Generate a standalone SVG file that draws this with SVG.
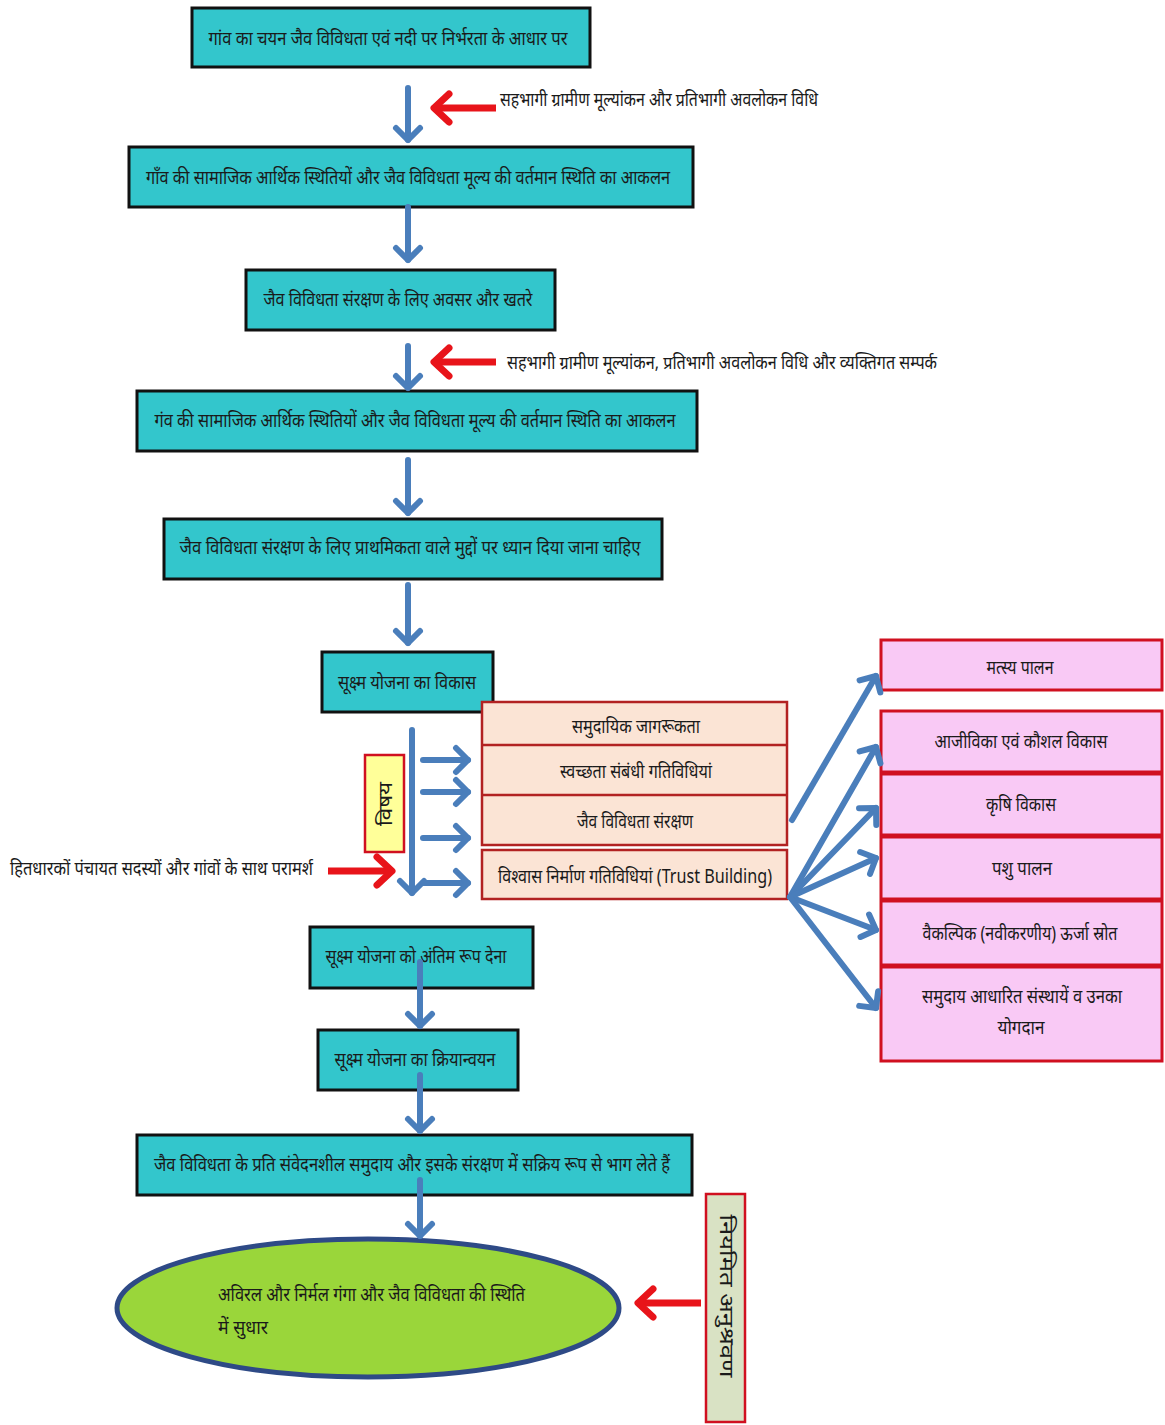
<svg xmlns="http://www.w3.org/2000/svg" width="1165" height="1425" viewBox="0 0 1165 1425">
<style>
text{font-family:"Noto Sans","Noto Sans Devanagari","Lohit Devanagari","Liberation Sans",sans-serif;font-size:19.5px;fill:#1a1a1a;dominant-baseline:central;text-anchor:middle}
.cy{fill:#33C6CC;stroke:#111;stroke-width:3}
.or{fill:#FBE4D5;stroke:#B22222;stroke-width:2.5}
.pk{fill:#F9C9F5;stroke:#D01020;stroke-width:3}
.bl{stroke:#4A7EBB;stroke-width:6;fill:none;stroke-linecap:round}
.rd{stroke:#E8141A;stroke-width:7;fill:none}
.lt{text-anchor:start}
.sm{font-size:18.5px}
</style>
<defs>
<marker id="bh" markerUnits="userSpaceOnUse" viewBox="-18 -18 36 36" markerWidth="36" markerHeight="36" refX="0" refY="0" orient="auto">
<path d="M-12,-12 L0,0 L-12,12" stroke="#4A7EBB" stroke-width="6" fill="none" stroke-linecap="round" stroke-linejoin="round"/>
</marker>
<marker id="rh" markerUnits="userSpaceOnUse" viewBox="-20 -20 40 40" markerWidth="40" markerHeight="40" refX="0" refY="0" orient="auto">
<path d="M-15,-14 L0,0 L-15,14" stroke="#E8141A" stroke-width="7" fill="none" stroke-linecap="round" stroke-linejoin="round"/>
</marker>
</defs>
<rect width="1165" height="1425" fill="#fff"/>

<g id="n1"><rect class="cy" x="192" y="8" width="398" height="59"/><text x="388" y="37" textLength="359" lengthAdjust="spacingAndGlyphs">गांव का चयन जैव विविधता एवं नदी पर निर्भरता के आधार पर</text></g>
<g id="l1"><text class="lt sm" x="500" y="98" textLength="318" lengthAdjust="spacingAndGlyphs">सहभागी ग्रामीण मूल्यांकन और प्रतिभागी अवलोकन विधि</text></g>
<g id="n2"><rect class="cy" x="129" y="147" width="564" height="60"/><text x="408" y="176" textLength="524" lengthAdjust="spacingAndGlyphs">गाँव की सामाजिक आर्थिक स्थितियों और जैव विविधता मूल्य की वर्तमान स्थिति का आकलन</text></g>
<g id="n3"><rect class="cy" x="246" y="270" width="309" height="60"/><text x="398" y="298" textLength="269" lengthAdjust="spacingAndGlyphs">जैव विविधता संरक्षण के लिए अवसर और खतरे</text></g>
<g id="l2"><text class="lt sm" x="507" y="361" textLength="430" lengthAdjust="spacingAndGlyphs">सहभागी ग्रामीण मूल्यांकन, प्रतिभागी अवलोकन विधि और  व्यक्तिगत सम्पर्क</text></g>
<g id="n4"><rect class="cy" x="137" y="391" width="560" height="60"/><text x="415" y="419" textLength="521" lengthAdjust="spacingAndGlyphs">गंव की सामाजिक आर्थिक स्थितियों और जैव विविधता मूल्य की वर्तमान स्थिति का आकलन</text></g>
<g id="n5"><rect class="cy" x="164" y="519" width="498" height="60"/><text x="410" y="546" textLength="461" lengthAdjust="spacingAndGlyphs">जैव विविधता संरक्षण के लिए प्राथमिकता वाले मुद्दों पर ध्यान दिया जाना चाहिए</text></g>
<g id="n6"><rect class="cy" x="322" y="652" width="171" height="60"/><text x="407" y="681" textLength="138" lengthAdjust="spacingAndGlyphs">सूक्ष्म योजना का विकास</text></g>

<g id="topics">
<rect class="or" x="482" y="702" width="305" height="143"/>
<line x1="482" y1="745" x2="787" y2="745" stroke="#B22222" stroke-width="2.5"/>
<line x1="482" y1="795" x2="787" y2="795" stroke="#B22222" stroke-width="2.5"/>
<text x="636" y="725" textLength="128" lengthAdjust="spacingAndGlyphs">समुदायिक जागरूकता</text>
<text x="636" y="770" textLength="152" lengthAdjust="spacingAndGlyphs">स्वच्छता संबंधी गतिविधियां</text>
<text x="635" y="820" textLength="116" lengthAdjust="spacingAndGlyphs">जैव विविधता संरक्षण</text>
</g>
<g id="trust"><rect class="or" x="482" y="850" width="305" height="49"/><text x="635" y="875" textLength="274" lengthAdjust="spacingAndGlyphs">विश्वास निर्माण गतिविधियां (Trust Building)</text></g>
<g id="vishay"><rect x="365" y="755" width="39" height="97" fill="#FFFF99" stroke="#D01020" stroke-width="2.5"/><text class="sm" transform="translate(384,804) rotate(-90)" x="0" y="0" textLength="44" lengthAdjust="spacingAndGlyphs">विषय</text></g>
<g id="l3"><text class="lt sm" x="10" y="867" textLength="303" lengthAdjust="spacingAndGlyphs">हितधारकों पंचायत सदस्यों और गांवों के साथ परामर्श</text></g>

<g id="p1"><rect class="pk" x="881" y="640" width="281" height="50"/><text x="1020" y="666" textLength="67" lengthAdjust="spacingAndGlyphs">मत्स्य पालन</text></g>
<g id="plist">
<rect class="pk" x="881" y="711" width="281" height="350"/>
<line x1="881" y1="773" x2="1162" y2="773" stroke="#D01020" stroke-width="5"/>
<line x1="881" y1="836" x2="1162" y2="836" stroke="#D01020" stroke-width="5"/>
<line x1="881" y1="900" x2="1162" y2="900" stroke="#D01020" stroke-width="5"/>
<line x1="881" y1="966" x2="1162" y2="966" stroke="#D01020" stroke-width="5"/>
<text x="1021" y="740" textLength="173" lengthAdjust="spacingAndGlyphs">आजीविका एवं कौशल विकास</text>
<text x="1021" y="803" textLength="70" lengthAdjust="spacingAndGlyphs">कृषि विकास</text>
<text x="1022" y="867" textLength="60" lengthAdjust="spacingAndGlyphs">पशु पालन</text>
<text x="1020" y="932" textLength="195" lengthAdjust="spacingAndGlyphs">वैकल्पिक (नवीकरणीय) ऊर्जा स्रोत</text>
<text x="1022" y="995" textLength="200" lengthAdjust="spacingAndGlyphs">समुदाय आधारित संस्थायें व उनका</text>
<text x="1021" y="1026" textLength="47" lengthAdjust="spacingAndGlyphs">योगदान</text>
</g>

<g id="n7"><rect class="cy" x="310" y="927" width="223" height="61"/><text x="416" y="955" textLength="181" lengthAdjust="spacingAndGlyphs">सूक्ष्म योजना को अंतिम रूप देना</text></g>
<g id="n8"><rect class="cy" x="318" y="1030" width="200" height="60"/><text x="415" y="1058" textLength="161" lengthAdjust="spacingAndGlyphs">सूक्ष्म योजना का क्रियान्वयन</text></g>
<g id="n9"><rect class="cy" x="137" y="1135" width="555" height="60"/><text x="412" y="1163" textLength="516" lengthAdjust="spacingAndGlyphs">जैव विविधता के प्रति संवेदनशील समुदाय और इसके संरक्षण में सक्रिय रूप से भाग लेते हैं</text></g>
<g id="goal"><ellipse cx="368" cy="1308" rx="251" ry="69" fill="#9AD63A" stroke="#2E4A86" stroke-width="5"/>
<text class="lt" x="218" y="1293" textLength="307" lengthAdjust="spacingAndGlyphs">अविरल और निर्मल गंगा और जैव विविधता की स्थिति</text>
<text class="lt" x="218" y="1326" textLength="50" lengthAdjust="spacingAndGlyphs">में सुधार</text></g>
<g id="monitor"><rect x="706" y="1194" width="39" height="228" fill="#D9E2C4" stroke="#D01020" stroke-width="2.5"/><text transform="translate(727,1296) rotate(90)" x="0" y="0" textLength="163" lengthAdjust="spacingAndGlyphs">नियमित  अनुश्रवण</text></g>

<g id="connectors">
<path class="bl" d="M408,88 L408,140" marker-end="url(#bh)"/>
<path class="bl" d="M408,207 L408,260" marker-end="url(#bh)"/>
<path class="bl" d="M408,346 L408,388" marker-end="url(#bh)"/>
<path class="bl" d="M408,460 L408,513" marker-end="url(#bh)"/>
<path class="bl" d="M408,585 L408,643" marker-end="url(#bh)"/>
<path class="bl" d="M412,730 L412,893" marker-end="url(#bh)"/>
<path class="bl" d="M423,760 L468,760" marker-end="url(#bh)"/>
<path class="bl" d="M423,792 L468,792" marker-end="url(#bh)"/>
<path class="bl" d="M423,838 L468,838" marker-end="url(#bh)"/>
<path class="bl" d="M423,883 L468,883" marker-end="url(#bh)"/>
<path class="bl" d="M792,820 L876,676" marker-end="url(#bh)"/>
<path class="bl" d="M790,897 L876,747" marker-end="url(#bh)"/>
<path class="bl" d="M790,897 L876,808" marker-end="url(#bh)"/>
<path class="bl" d="M790,897 L876,858" marker-end="url(#bh)"/>
<path class="bl" d="M790,897 L876,930" marker-end="url(#bh)"/>
<path class="bl" d="M790,897 L876,1008" marker-end="url(#bh)"/>
<path class="bl" d="M420,962 L420,1026" marker-end="url(#bh)"/>
<path class="bl" d="M420,1075 L420,1131" marker-end="url(#bh)"/>
<path class="bl" d="M420,1180 L420,1236" marker-end="url(#bh)"/>
<path class="rd" d="M496,108 L434,108" marker-end="url(#rh)"/>
<path class="rd" d="M496,362 L434,362" marker-end="url(#rh)"/>
<path class="rd" d="M328,871 L392,871" marker-end="url(#rh)"/>
<path class="rd" d="M701,1303 L638,1303" marker-end="url(#rh)"/>
</g>
</svg>
